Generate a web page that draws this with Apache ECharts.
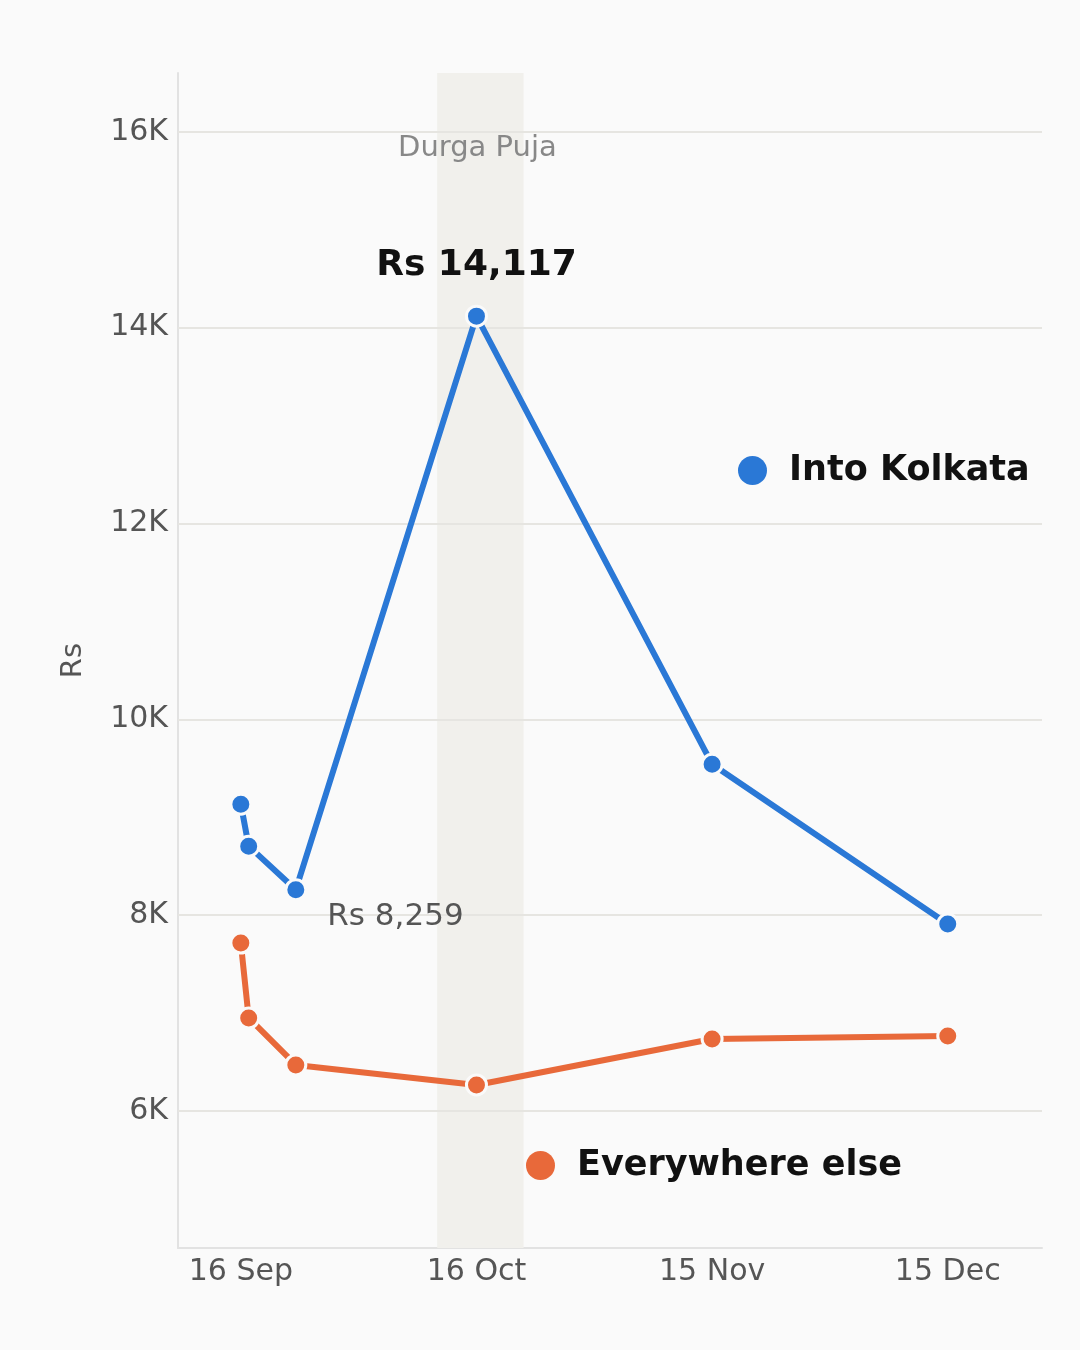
<!DOCTYPE html>
<html>
<head>
<meta charset="utf-8">
<script src="https://cdn.jsdelivr.net/npm/echarts@6/dist/echarts.min.js"></script>
<style>
	html, body { margin: 0; padding: 0; background: #fafafa; }
	#main { width: 1080px; height: 1350px; }
</style>
</head>
<body>
<div id="main"></div>
<script>
// dates of each fare reading
var dates = ['2023-09-16', '2023-09-17', '2023-09-23', '2023-10-16', '2023-11-15', '2023-12-15'];
// average fare, Rs
var intoKolkata = [9133, 8704, 8259, 14117, 9541, 7908];
var everywhereElse = [7714, 6949, 6469, 6265, 6735, 6765];
// y gridlines and x tick dates
var yTicks = [6000, 8000, 10000, 12000, 14000, 16000];
var xTicks = ['2023-09-16', '2023-10-16', '2023-11-15', '2023-12-15'];
// festival window
var pujaStart = '2023-10-11';
var pujaEnd = '2023-10-22';

var months = ['Jan', 'Feb', 'Mar', 'Apr', 'May', 'Jun', 'Jul', 'Aug', 'Sep', 'Oct', 'Nov', 'Dec'];
var font = 'DejaVu Sans';

function ts(d) {
	return +new Date(d + 'T00:00:00');
}

function pairs(vals) {
	var out = [];
	for (var i = 0; i < dates.length; i++) {
		out.push([ts(dates[i]), vals[i]]);
	}
	return out;
}

var blueData = pairs(intoKolkata);
// peak label
blueData[3] = {
	value: blueData[3],
	label: {
		show: true, position: 'top', distance: 21,
		formatter: 'Rs 14,117',
		fontFamily: font, fontSize: 36, fontWeight: 'bold', color: '#111'
	}
};
// low point label
blueData[2] = {
	value: blueData[2],
	label: {
		show: true, position: 'right', distance: 20, offset: [0, 27],
		formatter: 'Rs 8,259',
		fontFamily: font, fontSize: 31, color: '#555'
	}
};

var gridLines = [];
for (var i = 0; i < yTicks.length; i++) {
	gridLines.push({ yAxis: yTicks[i] });
}

var chart = echarts.init(document.getElementById('main'));
var option = {
	backgroundColor: '#fafafa',
	animation: false,
	grid: { left: 178, right: 38, top: 73, bottom: 102 },
	legend: [{
		data: ['Into Kolkata'],
		left: 733, top: 448,
		icon: 'circle', itemWidth: 29, itemHeight: 29,
		itemStyle: { borderWidth: 0 },
		textStyle: { fontFamily: font, fontSize: 35, fontWeight: 'bold', color: '#111', padding: [0, 0, 0, 17] }
	}, {
		data: ['Everywhere else'],
		left: 521, top: 1143,
		icon: 'circle', itemWidth: 29, itemHeight: 29,
		itemStyle: { borderWidth: 0 },
		textStyle: { fontFamily: font, fontSize: 35, fontWeight: 'bold', color: '#111', padding: [0, 0, 0, 17] }
	}],
	xAxis: {
		type: 'value',
		min: ts('2023-09-08'),
		max: ts('2023-12-27'),
		axisLine: { show: true, lineStyle: { color: '#e2e2e2', width: 2 } },
		axisTick: { show: false },
		splitLine: { show: false },
		axisLabel: {
			customValues: xTicks.map(ts),
			formatter: function(v) {
				var d = new Date(v);
				return d.getDate() + ' ' + months[d.getMonth()];
			},
			fontFamily: font, fontSize: 30, color: '#555', margin: 9
		}
	},
	yAxis: {
		type: 'value',
		min: 4600,
		max: 16600,
		name: 'Rs',
		nameLocation: 'middle',
		nameGap: 90,
		nameTextStyle: { fontFamily: font, fontSize: 29, color: '#555' },
		axisLine: { show: true, lineStyle: { color: '#e2e2e2', width: 2 } },
		axisTick: { show: false },
		splitLine: { show: false },
		axisLabel: {
			customValues: yTicks,
			formatter: function(v) { return (v / 1000) + 'K'; },
			fontFamily: font, fontSize: 30, color: '#555', margin: 10
		}
	},
	series: [{
		// background layer: festival band and gridlines
		name: 'bg',
		type: 'line',
		data: [],
		silent: true,
		z: 1,
		markArea: {
			silent: true,
			z: 1,
			itemStyle: { color: '#f1f0ec' },
			label: {
				show: true, position: 'insideTop', distance: 61, offset: [-3, 0],
				fontFamily: font, fontSize: 29, color: '#888'
			},
			data: [[{ name: 'Durga Puja', xAxis: ts(pujaStart) }, { xAxis: ts(pujaEnd) }]]
		},
		markLine: {
			silent: true,
			z: 1,
			symbol: 'none',
			label: { show: false },
			lineStyle: { color: '#e6e5e1', width: 2, type: 'solid' },
			data: gridLines
		}
	}, {
		name: 'Everywhere else',
		type: 'line',
		data: pairs(everywhereElse),
		color: '#e8693a',
		symbol: 'circle',
		symbolSize: 20,
		showAllSymbol: true,
		lineStyle: { width: 6, color: '#e8693a' },
		itemStyle: { color: '#e8693a', borderColor: '#fafafa', borderWidth: 3 },
		z: 3
	}, {
		name: 'Into Kolkata',
		type: 'line',
		data: blueData,
		color: '#2a78d6',
		symbol: 'circle',
		symbolSize: 20,
		showAllSymbol: true,
		lineStyle: { width: 6, color: '#2a78d6' },
		itemStyle: { color: '#2a78d6', borderColor: '#fafafa', borderWidth: 3 },
		z: 4
	}]
};
chart.setOption(option);
</script>
</body>
</html>
